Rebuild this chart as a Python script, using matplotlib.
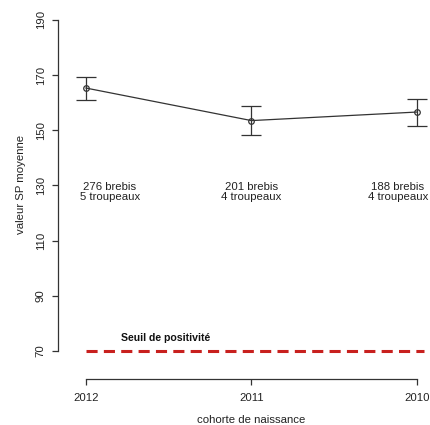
import matplotlib
matplotlib.use("Agg")
import matplotlib.pyplot as plt

plt.rcParams['font.family'] = ['Liberation Sans', 'DejaVu Sans']
plt.rcParams['lines.scale_dashes'] = False

# Data
cohorts = ["2012", "2011", "2010"]
means = [165.3, 153.5, 156.6]
upper = [169.3, 158.7, 161.2]
lower = [161.0, 148.2, 151.6]
n_labels = ["276 brebis\n5 troupeaux", "201 brebis\n4 troupeaux", "188 brebis\n4 troupeaux"]
threshold = 70
threshold_label = "Seuil de positivité"
yticks = [70, 90, 110, 130, 150, 170, 190]

# Layout of the annotation blocks (x in axis units)
label_x = [1.145, 2.0, 2.885]
label_y = 127.6

pos = list(range(1, len(cohorts) + 1))
err_lo = [m - l for m, l in zip(means, lower)]
err_hi = [u - m for m, u in zip(means, upper)]

fig = plt.figure(figsize=(4.30, 4.25), dpi=100)
ax = fig.add_axes([58/430, 46/425, 372/430, 369/425])
ax.set_xlim(0.831, 3.079)
ax.set_ylim(59.8, 193.6)

ax.errorbar(pos, means, yerr=[err_lo, err_hi], color='#333333', lw=0.9,
            elinewidth=0.9, capsize=7, capthick=0.9,
            marker='o', ms=4, mfc='none', mec='#333333', mew=0.9)

for x, lab in zip(label_x, n_labels):
    ax.text(x, label_y, lab, ha='center', va='center', fontsize=8.2,
            color='#222222', linespacing=1.05)

ax.plot([1, 3.04], [threshold, threshold], color='#c8201e', lw=2.2,
        dashes=(8, 4.5))
ax.text(1.21, 74.8, threshold_label, ha='left', va='center', fontsize=7.6,
        fontweight='bold', color='#111111')

for s in ['top', 'right']:
    ax.spines[s].set_visible(False)
ax.spines['left'].set_bounds(70, 190)
ax.spines['bottom'].set_bounds(1, 3)
for s in ['left', 'bottom']:
    ax.spines[s].set_color('#333333')
    ax.spines[s].set_linewidth(0.9)

ax.set_yticks(yticks)
ax.set_yticklabels([str(t) for t in yticks], rotation=90, va='center')
ax.set_xticks(pos)
ax.set_xticklabels(cohorts)
ax.tick_params(axis='both', length=4.3, width=0.9, color='#333333',
               labelsize=8.2, labelcolor='#222222')
ax.tick_params(axis='y', pad=4.5)
ax.tick_params(axis='x', pad=6)

ax.set_ylabel("valeur SP moyenne", fontsize=8.2, color='#222222')
ax.set_xlabel("cohorte de naissance", fontsize=8.2, color='#222222')
ax.yaxis.set_label_coords(-(58 - 21) / 372, (379 - 184) / 369)
ax.xaxis.set_label_coords((251 - 58) / 372, -(420 - 379) / 369)
ax.yaxis.label.set_va('center')
ax.xaxis.label.set_va('center')

fig.savefig("out.png", dpi=100, facecolor='white')
